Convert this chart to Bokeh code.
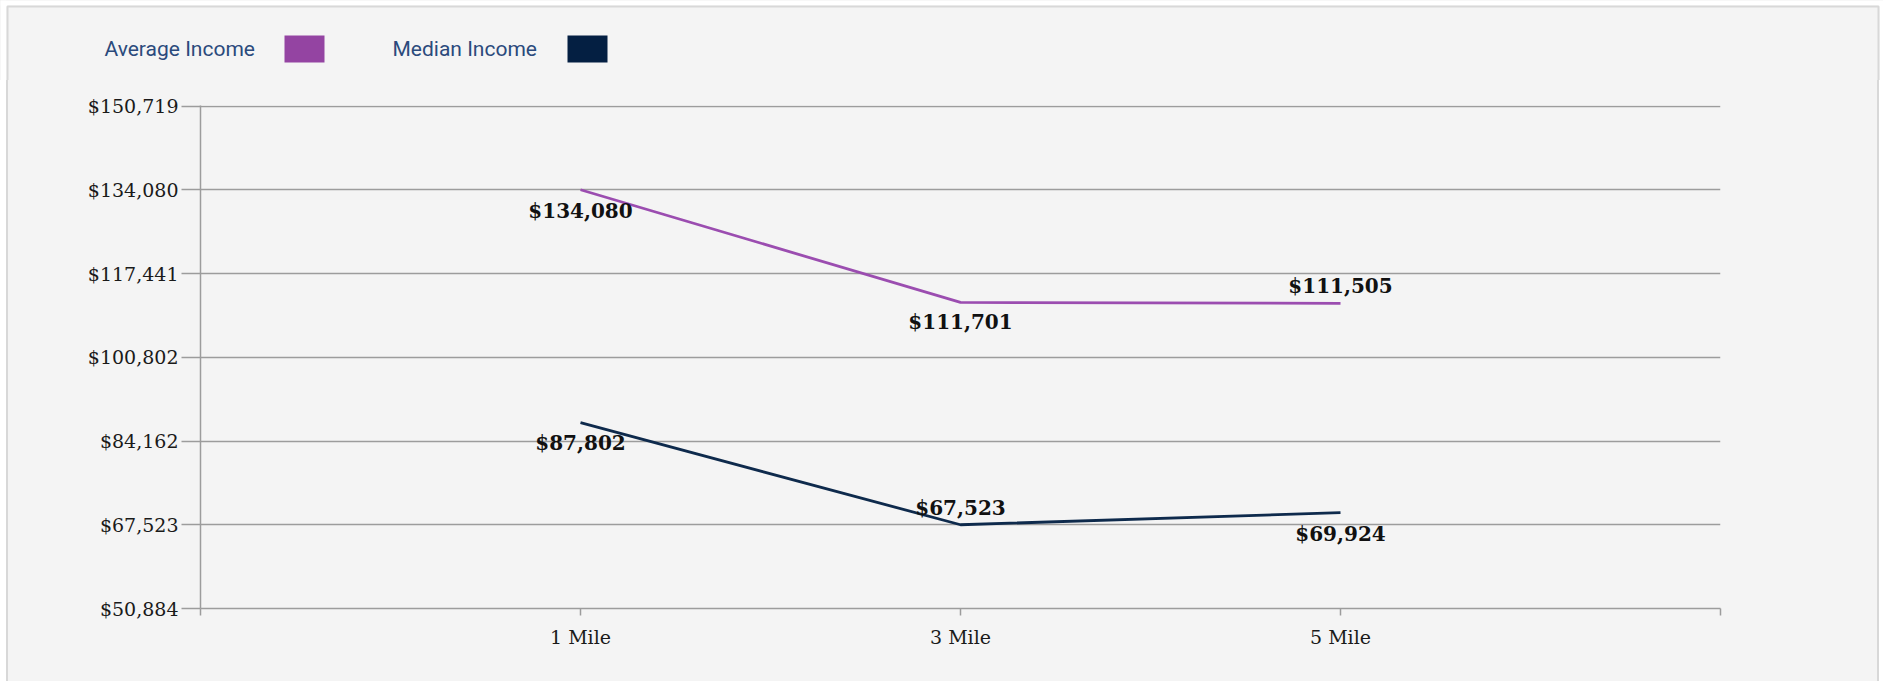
from bokeh.plotting import figure
from bokeh.layouts import column, row
from bokeh.models import (FixedTicker, NumeralTickFormatter, ColumnDataSource,
                          Range1d, Spacer)
from bokeh.core.properties import value
from bokeh.embed import file_html
from bokeh.resources import INLINE

# ---- data -------------------------------------------------------------
categories = ["1 Mile", "3 Mile", "5 Mile"]
average_income = [134080, 111701, 111505]
median_income = [87802, 67523, 69924]
y_ticks = [50884, 67523, 84162, 100802, 117441, 134080, 150719]
series_names = ["Average Income", "Median Income"]

# ---- styles -----------------------------------------------------------
AVG_COLOR = "#9b4db0"
MED_COLOR = "#0e2a4c"
AVG_SWATCH = "#9444a2"
MED_SWATCH = "#041f42"
PANEL_BG = "#f4f4f4"
EDGE = "#d8d8d8"
GRID_COLOR = "#9c9c9c"
SERIF = "DejaVu Serif"
# vertical pixel offsets of the value labels (positive = below the point)
avg_label_dy = [21, 20, -17]
med_label_dy = [20, -17, 21]

W, H = 1883, 681
HEAD_H = 80                 # height of the legend strip
LEFT_PAD, RIGHT_PAD = 6, 4  # white page margin beside the panel
TOP_PAD = 5
EDGE_W = 2
PLOT_W = W - LEFT_PAD - RIGHT_PAD - 2 * EDGE_W
PLOT_H = H - HEAD_H
x_pos = list(range(1, len(categories) + 1))

# ---- legend strip (pixel-space figure, y grows downwards) -------------
head = figure(width=W, height=HEAD_H, output_backend="svg", toolbar_location=None,
              x_range=Range1d(0, W), y_range=Range1d(HEAD_H, 0),
              x_axis_location=None, y_axis_location=None, title=None,
              min_border=0, outline_line_color=None,
              background_fill_color=PANEL_BG, border_fill_color=PANEL_BG)
head.grid.visible = False
# white page margin around the panel
head.quad(left=[0, 0, W - RIGHT_PAD], right=[LEFT_PAD, W, W],
          top=[0, 0, 0], bottom=[HEAD_H + 20, TOP_PAD, HEAD_H + 20],
          fill_color="white", line_color=None)
# grey edge of the panel
head.quad(left=[LEFT_PAD + 1], right=[W - RIGHT_PAD - 1],
          top=[TOP_PAD + 1], bottom=[HEAD_H + 20],
          fill_color=None, line_color=EDGE, line_width=EDGE_W)
swatch_left = [284, 567]
legend_src = ColumnDataSource(dict(
    name=series_names,
    tx=[104, 392],
    sw_left=swatch_left,
    sw_right=[l + 40 for l in swatch_left],
    color=[AVG_SWATCH, MED_SWATCH],
))
head.text(x="tx", y=48, text="name", source=legend_src,
          text_font=value("Roboto"), text_font_size="21px",
          text_color="#2b4a7c", text_baseline="alphabetic")
head.quad(left="sw_left", right="sw_right", top=35, bottom=62, source=legend_src,
          fill_color="color", line_color=None)

# ---- main chart ---------------------------------------------------------
FRAME_L, FRAME_R, FRAME_T, FRAME_B = 200, 1720, 105, 608
off_x = LEFT_PAD + EDGE_W
p = figure(width=PLOT_W, height=PLOT_H, output_backend="svg", toolbar_location=None,
           x_range=(0, len(categories) + 1),
           y_range=(y_ticks[0], y_ticks[-1] + 100),
           min_border_left=FRAME_L - off_x,
           min_border_right=off_x + PLOT_W - FRAME_R,
           min_border_top=FRAME_T - HEAD_H,
           min_border_bottom=H - FRAME_B,
           background_fill_color=PANEL_BG, border_fill_color=PANEL_BG,
           outline_line_color=None)

# x axis: category ticks plus the two ends of the axis
p.xaxis.ticker = FixedTicker(ticks=list(range(0, len(categories) + 2)))
overrides = {0: "", len(categories) + 1: ""}
overrides.update({i: c for i, c in zip(x_pos, categories)})
p.xaxis.major_label_overrides = overrides
p.xaxis.axis_line_color = GRID_COLOR
p.xaxis.axis_line_width = 1.5
p.xaxis.major_tick_line_color = GRID_COLOR
p.xaxis.major_tick_line_width = 1.5
p.xaxis.major_tick_out = 7
p.xaxis.major_tick_in = 0
p.xaxis.minor_tick_line_color = None
p.xaxis.major_label_standoff = 10
p.xaxis.major_label_text_font = SERIF
p.xaxis.major_label_text_font_size = "19px"
p.xaxis.major_label_text_color = "#1a1a1a"

# y axis
p.yaxis.ticker = FixedTicker(ticks=y_ticks)
p.yaxis.formatter = NumeralTickFormatter(format="$0,0")
p.yaxis.axis_line_color = GRID_COLOR
p.yaxis.axis_line_width = 1.5
p.yaxis.major_tick_line_color = GRID_COLOR
p.yaxis.major_tick_line_width = 1.5
p.yaxis.major_tick_out = 19
p.yaxis.major_tick_in = 0
p.yaxis.minor_tick_line_color = None
p.yaxis.major_label_standoff = 3
p.yaxis.major_label_text_font = SERIF
p.yaxis.major_label_text_font_size = "19px"
p.yaxis.major_label_text_color = "#1a1a1a"

p.xgrid.visible = False
p.ygrid.ticker = FixedTicker(ticks=y_ticks)
p.ygrid.grid_line_color = GRID_COLOR
p.ygrid.grid_line_width = 1.5

for vals, color, dys in ((average_income, AVG_COLOR, avg_label_dy),
                         (median_income, MED_COLOR, med_label_dy)):
    p.line(x_pos, vals, line_color=color, line_width=2.8)
    src = ColumnDataSource(dict(x=x_pos, y=vals,
                                label=[f"${v:,}" for v in vals],
                                dy=dys))
    p.text(x="x", y="y", text="label", y_offset="dy", source=src,
           text_font=value(SERIF), text_font_style="bold",
           text_font_size="20px", text_color="#111111",
           text_align="center", text_baseline="middle")

edge_style = {"background-color": EDGE}
white_style = {"background-color": "white"}
body = row(Spacer(width=LEFT_PAD, height=PLOT_H, styles=white_style),
           Spacer(width=EDGE_W, height=PLOT_H, styles=edge_style),
           p,
           Spacer(width=EDGE_W, height=PLOT_H, styles=edge_style),
           Spacer(width=RIGHT_PAD, height=PLOT_H, styles=white_style),
           spacing=0, styles={"background-color": PANEL_BG})
page = column(head, body, spacing=0, styles={"background-color": PANEL_BG})

open("out.html", "w").write(file_html(page, INLINE))
